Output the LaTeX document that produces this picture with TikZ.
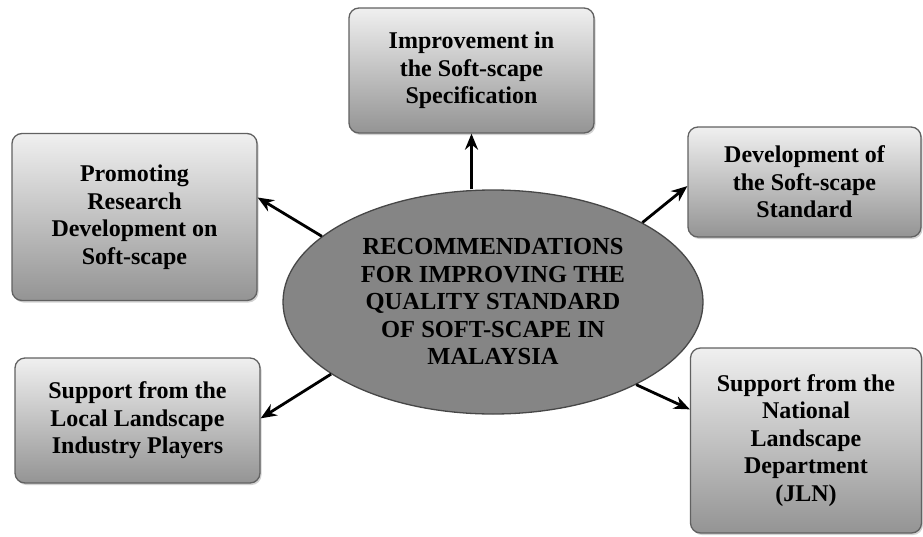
\documentclass[tikz,border=0pt]{standalone}
\usepackage{fontspec}
\setmainfont{Liberation Serif}
\usetikzlibrary{shapes.geometric,arrows.meta,shadows}
\begin{document}
\begin{tikzpicture}[x=1pt,y=-1pt,
  box/.style={draw=black!62, line width=1.3pt, rounded corners=10pt,
    top color=black!6, bottom color=black!42, align=center,
    font=\fontsize{24}{27.5}\selectfont\bfseries, inner sep=0pt,
    drop shadow={shadow xshift=1.5pt, shadow yshift=-2pt, opacity=0.35}},
  hub/.style={ellipse, draw=black!72, line width=1.3pt, fill=black!48,
    inner sep=0pt, align=center, font=\fontsize{24.5}{27.5}\selectfont\bfseries},
  arr/.style={-{Stealth[length=16pt,width=13pt]}, line width=2.8pt}]
\useasboundingbox (0,0) rectangle (923,536);
\fill[white] (0,0) rectangle (923,536);

\node[hub, minimum width=420pt, minimum height=224pt] (ell) at (493,302)
  {RECOMMENDATIONS\\FOR IMPROVING THE\\QUALITY STANDARD\\OF SOFT-SCAPE IN\\MALAYSIA};

\node[box, minimum width=245pt, minimum height=125pt] (top) at (471.5,70.5)
  {Improvement in\\the Soft-scape\\Specification};
\node[box, minimum width=245pt, minimum height=167pt] (lt) at (134.5,217)
  {Promoting\\Research\\Development on\\Soft-scape};
\node[box, minimum width=233pt, minimum height=110pt] (rt) at (804.5,182)
  {Development of\\the Soft-scape\\Standard};
\node[box, minimum width=245pt, minimum height=125pt] (lb) at (137.5,420.5)
  {Support from the\\Local Landscape\\Industry Players};
\node[box, minimum width=231pt, minimum height=185pt] (rb) at (806,440.5)
  {Support from the\\National\\Landscape\\Department\\(JLN)};

\draw[arr] (top.south |- ell.north) -- (top.south);
\draw[arr] (ell.159.4) -- (lt.9.7);
\draw[arr] (ell.28.6) -- (rt.182.9);
\draw[arr] (ell.204.4) -- (lb.1.6);
\draw[arr] (ell.-30.3) -- (rb.165.3);
\end{tikzpicture}
\end{document}
